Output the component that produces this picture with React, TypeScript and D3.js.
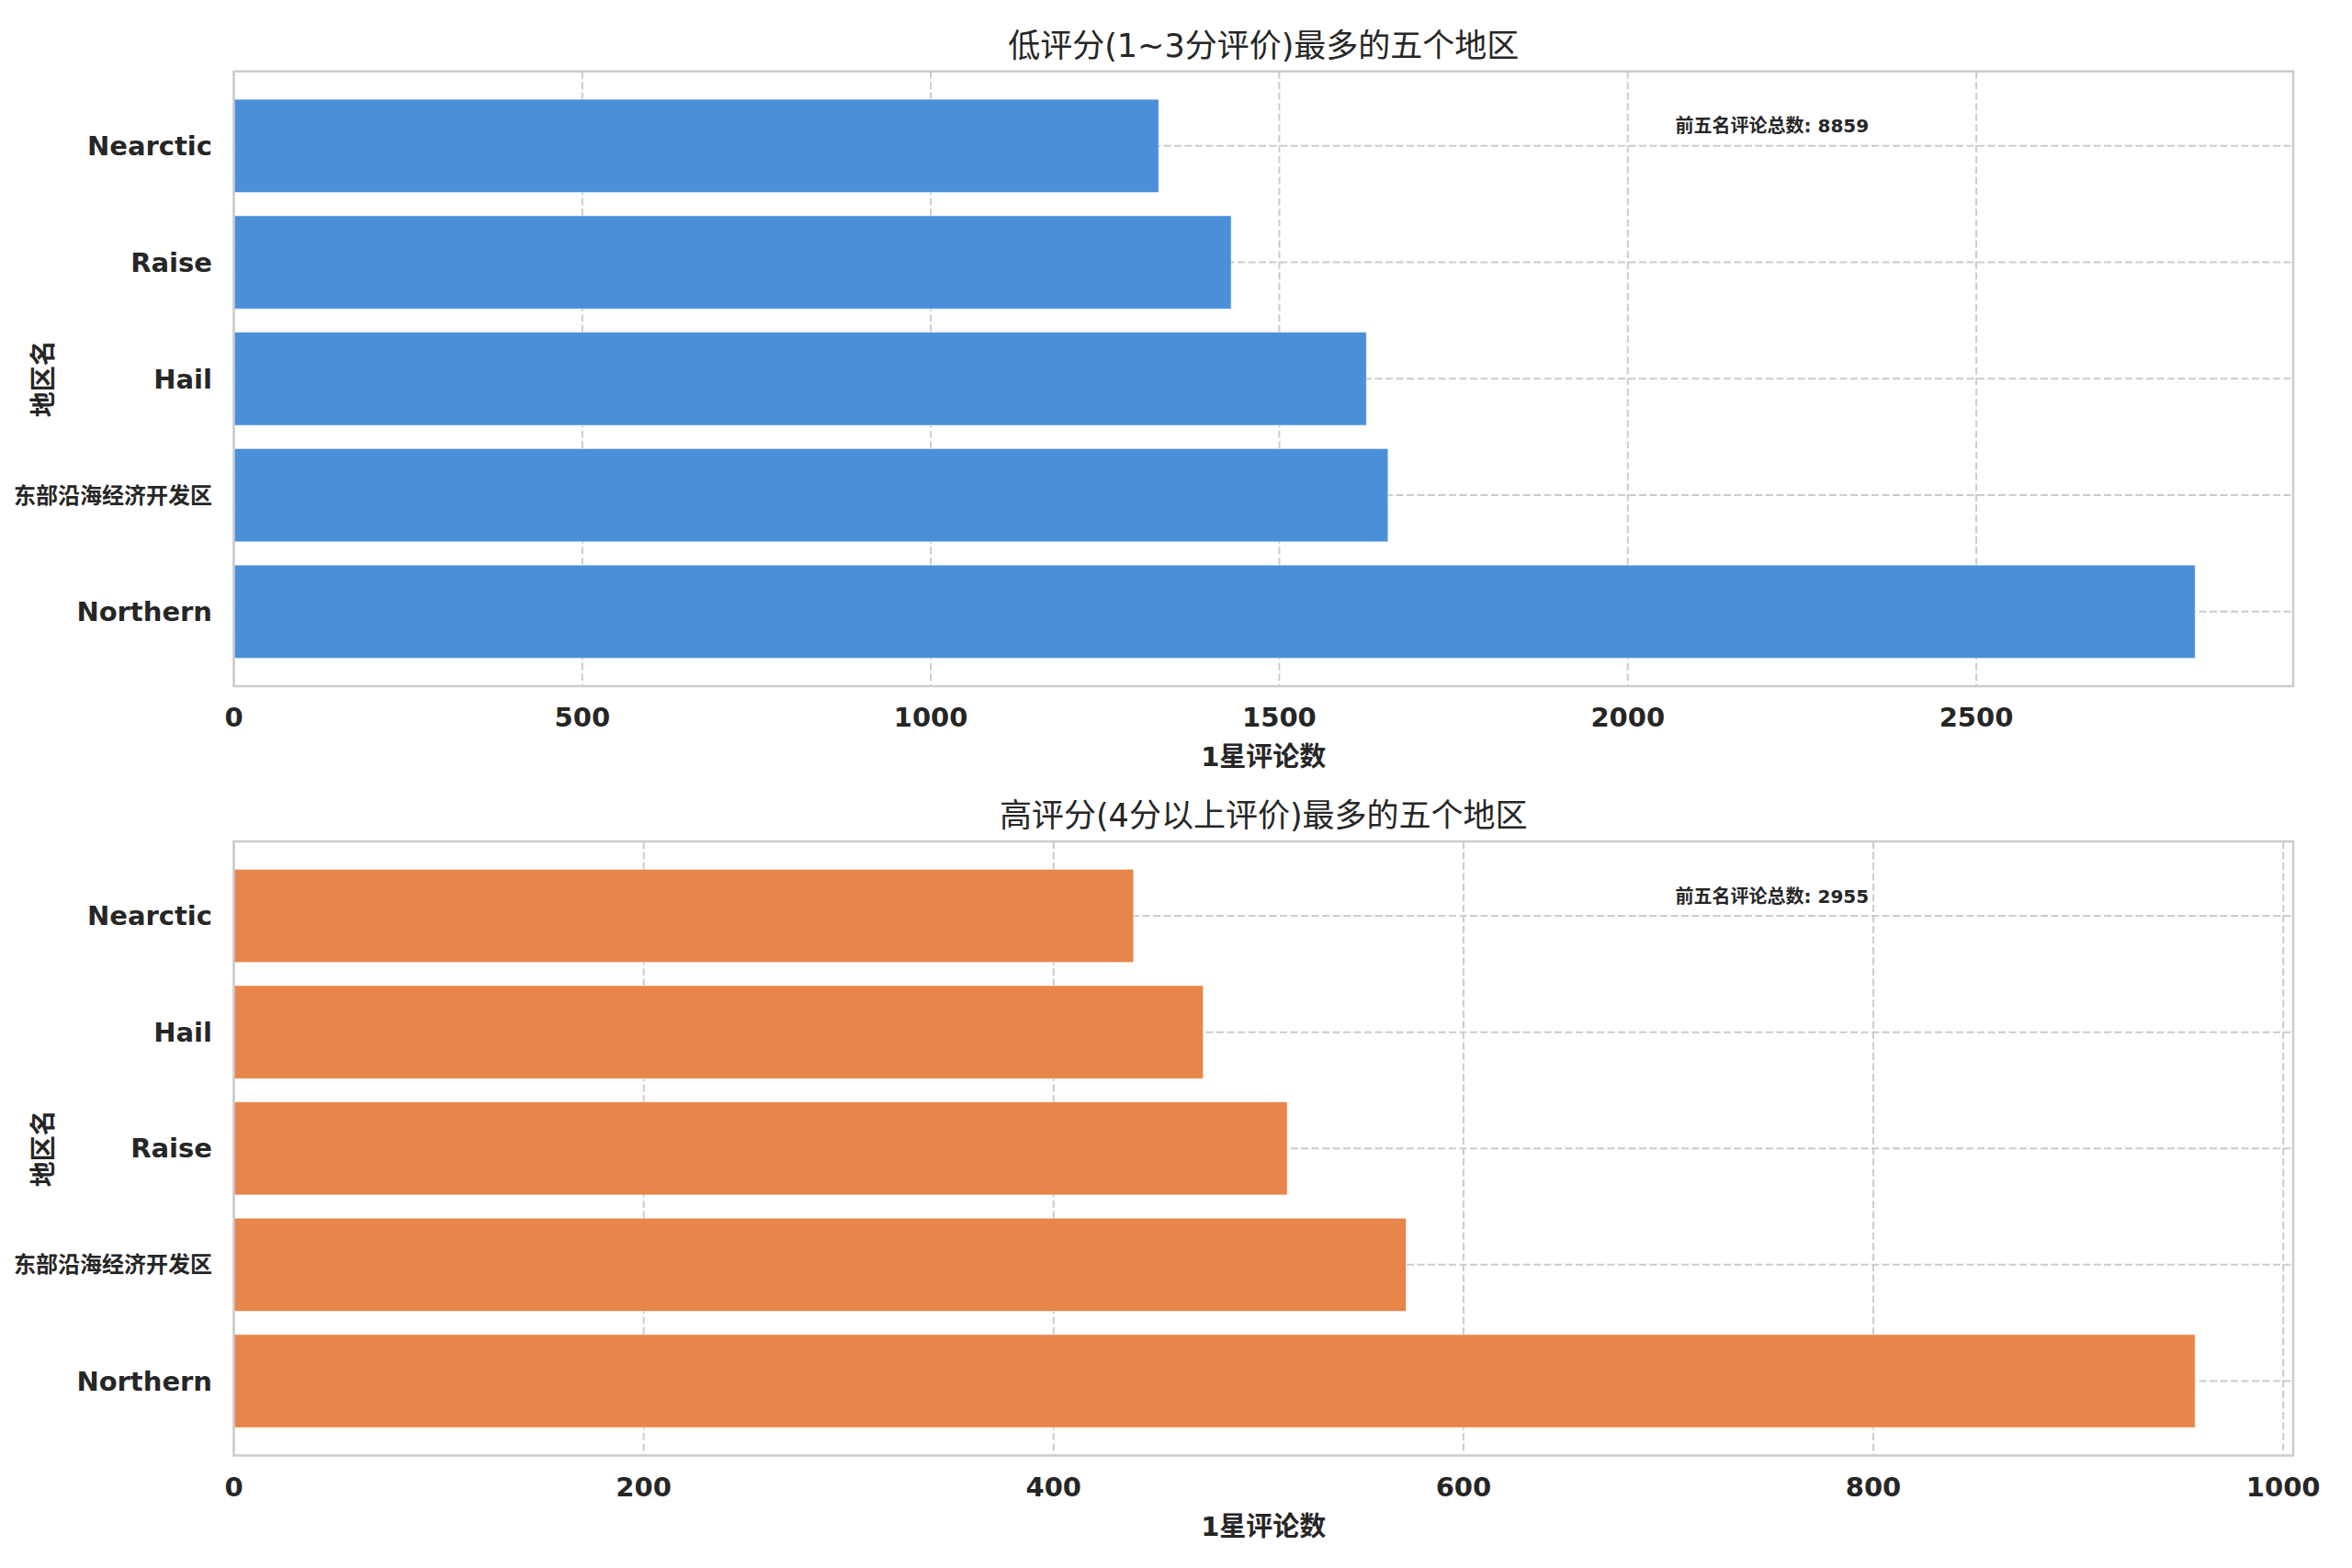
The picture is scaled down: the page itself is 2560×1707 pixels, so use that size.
import React from "react";
import * as d3 from "d3";

// ---- Data (index 0 is drawn at the bottom, as in matplotlib barh) ----
const lowCategories = ["Northern", "东部沿海经济开发区", "Hail", "Raise", "Nearctic"];
const lowValues = [2814, 1656, 1625, 1431, 1327];
const lowTotal = 8859;
const lowTicks = [0, 500, 1000, 1500, 2000, 2500];

const highCategories = ["Northern", "东部沿海经济开发区", "Raise", "Hail", "Nearctic"];
const highValues = [957, 572, 514, 473, 439];
const highTotal = 2955;
const highTicks = [0, 200, 400, 600, 800, 1000];

const lowTitle = "低评分(1~3分评价)最多的五个地区";
const highTitle = "高评分(4分以上评价)最多的五个地区";
const xLabelText = "1星评论数";
const yLabelText = "地区名";
const totalLabel = "前五名评论总数";

const W = 2560;
const H = 1707;
const FONT = "'DejaVu Sans', 'Noto Sans CJK SC', sans-serif";
const TEXT = "#262626";
const GRID = "#cccccc";

const hasCJK = (s: string) => /[\u3000-\u9fff]/.test(s);

type PanelProps = {
  top: number;
  bottom: number;
  categories: string[];
  values: number[];
  ticks: number[];
  color: string;
  title: string;
  total: number;
};

function Panel({ top, bottom, categories, values, ticks, color, title, total }: PanelProps) {
  const left = 254.5;
  const right = 2496;
  const maxV = d3.max(values) as number;
  const x = d3.scaleLinear().domain([0, maxV * 1.05]).range([left, right]);
  const n = categories.length;
  const y = d3
    .scaleLinear()
    .domain([-0.4 - 0.05 * (n - 0.2), n - 1 + 0.4 + 0.05 * (n - 0.2)])
    .range([bottom, top]);
  const barH = Math.abs(y(0.4) - y(-0.4));
  const cx = (left + right) / 2;
  const cy = (top + bottom) / 2;

  return (
    <g>
      {/* grid */}
      {ticks.map((t) => (
        <line
          key={"gx" + t}
          x1={x(t)}
          x2={x(t)}
          y1={top}
          y2={bottom}
          stroke={GRID}
          strokeWidth={2}
          strokeDasharray="8,3.5"
        />
      ))}
      {categories.map((c, i) => (
        <line
          key={"gy" + c}
          x1={left}
          x2={right}
          y1={y(i)}
          y2={y(i)}
          stroke={GRID}
          strokeWidth={2}
          strokeDasharray="8,3.5"
        />
      ))}
      {/* bars */}
      {values.map((v, i) => (
        <rect
          key={"b" + i}
          x={x(0)}
          y={y(i) - barH / 2}
          width={x(v) - x(0)}
          height={barH}
          fill={color}
          stroke="#ffffff"
          strokeOpacity={0.5}
          strokeWidth={1}
        />
      ))}
      {/* spines */}
      <rect
        x={left}
        y={top}
        width={right - left}
        height={bottom - top}
        fill="none"
        stroke={GRID}
        strokeWidth={2.5}
      />
      {/* x tick labels */}
      {ticks.map((t) => (
        <text
          key={"tx" + t}
          x={x(t)}
          y={bottom + 44}
          textAnchor="middle"
          fontFamily={FONT}
          fontWeight="bold"
          fontSize={29}
          fill={TEXT}
        >
          {String(t)}
        </text>
      ))}
      {/* y tick labels */}
      {categories.map((c, i) => (
        <text
          key={"ty" + c}
          x={231}
          y={y(i)}
          dy="0.35em"
          textAnchor="end"
          fontFamily={FONT}
          fontWeight="bold"
          fontSize={hasCJK(c) ? 24 : 29}
          fill={TEXT}
        >
          {c}
        </text>
      ))}
      {/* axis labels */}
      <text
        x={cx}
        y={bottom + 87}
        textAnchor="middle"
        fontFamily={FONT}
        fontWeight="bold"
        fontSize={29}
        fill={TEXT}
      >
        {xLabelText}
      </text>
      <text
        transform={`translate(47,${cy}) rotate(-90)`}
        textAnchor="middle"
        dy="0.35em"
        fontFamily={FONT}
        fontWeight="bold"
        fontSize={28}
        fill={TEXT}
      >
        {yLabelText}
      </text>
      {/* title */}
      <text
        x={cx}
        y={top - 16}
        textAnchor="middle"
        fontFamily={FONT}
        fontSize={35}
        fill={TEXT}
      >
        {title}
      </text>
      {/* annotation */}
      <text
        x={left + 0.7 * (right - left)}
        y={top + 66.5}
        textAnchor="start"
        fontFamily={FONT}
        fontWeight="bold"
        fontSize={20}
        fill={TEXT}
      >
        {`${totalLabel}: ${total}`}
      </text>
    </g>
  );
}

export default function App() {
  return (
    <svg
      width={W}
      height={H}
      viewBox={`0 0 ${W} ${H}`}
      style={{ position: "absolute", left: 0, top: 0, background: "#ffffff" }}
    >
      <rect x={0} y={0} width={W} height={H} fill="#ffffff" />
      <Panel
        top={77.7}
        bottom={747}
        categories={lowCategories}
        values={lowValues}
        ticks={lowTicks}
        color="#4a90d9"
        title={lowTitle}
        total={lowTotal}
      />
      <Panel
        top={916}
        bottom={1584.5}
        categories={highCategories}
        values={highValues}
        ticks={highTicks}
        color="#e8854b"
        title={highTitle}
        total={highTotal}
      />
    </svg>
  );
}
